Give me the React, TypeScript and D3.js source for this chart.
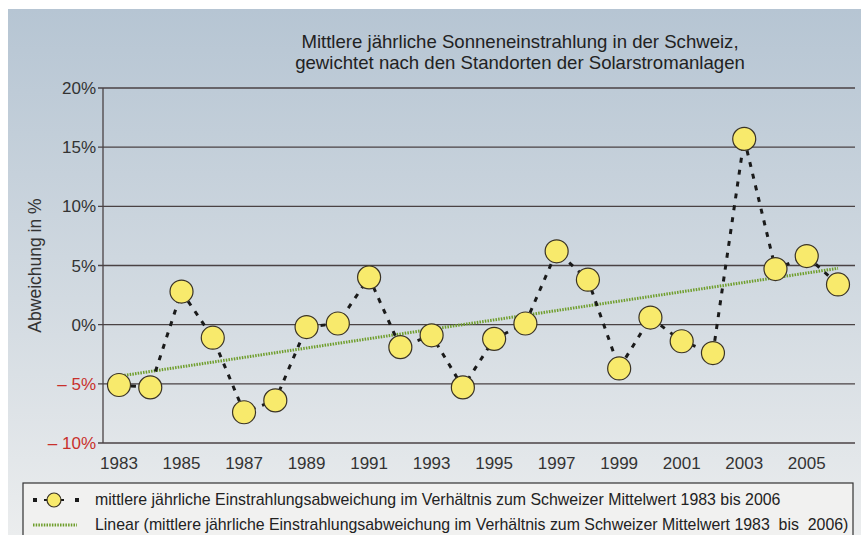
import React from "react";
import * as d3 from "d3";

// Jahre und mittlere Abweichung in %
const years = [
  1983, 1984, 1985, 1986, 1987, 1988, 1989, 1990, 1991, 1992, 1993, 1994,
  1995, 1996, 1997, 1998, 1999, 2000, 2001, 2002, 2003, 2004, 2005, 2006,
];
const deviation = [
  -5.1, -5.3, 2.8, -1.1, -7.4, -6.4, -0.2, 0.1, 4.0, -1.9, -0.9, -5.3,
  -1.2, 0.1, 6.2, 3.8, -3.7, 0.6, -1.4, -2.4, 15.7, 4.7, 5.8, 3.4,
];
const yTicks = [-10, -5, 0, 5, 10, 15, 20];
const xTickYears = [1983, 1985, 1987, 1989, 1991, 1993, 1995, 1997, 1999, 2001, 2003, 2005];

const titleLines = [
  "Mittlere jährliche Sonneneinstrahlung in der Schweiz,",
  "gewichtet nach den Standorten der Solarstromanlagen",
];
const legendLabels = [
  "mittlere jährliche Einstrahlungsabweichung im Verhältnis zum Schweizer Mittelwert 1983 bis 2006",
  "Linear (mittlere jährliche Einstrahlungsabweichung im Verhältnis zum Schweizer Mittelwert 1983  bis  2006)",
];

const W = 861;
const H = 535;
const FONT = "'Liberation Sans', Arial, sans-serif";
const YELLOW = "#f8ea6c";
const GREEN = "#6f9e2c";

export default function App() {
  const x = d3.scaleLinear().domain([1983, 2006]).range([119, 838]);
  const y = d3.scaleLinear().domain([-10, 20]).range([443, 88]);

  const data = years.map((yr, i) => ({ yr, v: deviation[i] }));

  // lineare Regression für die Trendlinie
  const mx = d3.mean(years) as number;
  const my = d3.mean(deviation) as number;
  const slope =
    d3.sum(data, (d) => (d.yr - mx) * (d.v - my)) /
    d3.sum(data, (d) => (d.yr - mx) ** 2);
  const icpt = my - slope * mx;
  const trend = [years[0], years[years.length - 1]].map((yr) => ({ yr, v: icpt + slope * yr }));

  const line = d3
    .line<{ yr: number; v: number }>()
    .x((d) => x(d.yr))
    .y((d) => y(d.v));

  const fmt = (t: number) => (t < 0 ? `\u2013 ${Math.abs(t)}%` : `${t}%`);

  return (
    <svg
      width={W}
      height={H}
      style={{ position: "absolute", left: 0, top: 0, fontFamily: FONT }}
    >
      <defs>
        <linearGradient id="bg" x1="0" y1="0" x2="0" y2="1">
          <stop offset="0%" stopColor="#b6c5d3" />
          <stop offset="55%" stopColor="#d2dae1" />
          <stop offset="100%" stopColor="#ebedee" />
        </linearGradient>
      </defs>
      <rect x={0} y={0} width={W} height={H} fill="#ffffff" />
      <rect x={8} y={9} width={W - 8} height={H - 9} fill="url(#bg)" />

      {/* Titel */}
      <g fill="#222" fontSize={18.6} textAnchor="middle">
        {titleLines.map((t, i) => (
          <text key={i} x={520} y={48 + i * 21}>
            {t}
          </text>
        ))}
      </g>

      {/* Gitterlinien + y-Achse */}
      <g>
        {yTicks.map((t) => (
          <g key={t}>
            <line x1={98} x2={855} y1={y(t)} y2={y(t)} stroke="#4a4244" strokeWidth={1.3} />
            <text
              x={96}
              y={y(t) + 6}
              textAnchor="end"
              fontSize={17}
              fill={t < 0 ? "#c8302c" : "#333"}
            >
              {fmt(t)}
            </text>
          </g>
        ))}
        <line x1={103} x2={103} y1={y(20)} y2={y(-10)} stroke="#4a4244" strokeWidth={1.3} />
      </g>

      <text
        transform={`translate(41,${y(5)}) rotate(-90)`}
        textAnchor="middle"
        fontSize={17.5}
        fill="#333"
      >
        Abweichung in %
      </text>

      {/* x-Achse */}
      <g fontSize={17} fill="#333" textAnchor="middle">
        {xTickYears.map((yr) => (
          <text key={yr} x={x(yr)} y={469}>
            {yr}
          </text>
        ))}
      </g>

      {/* Trendlinie */}
      <path
        d={line(trend) || ""}
        fill="none"
        stroke={GREEN}
        strokeWidth={3}
        strokeDasharray="1.5,1.2"
      />

      {/* Datenreihe */}
      <path
        d={line(data) || ""}
        fill="none"
        stroke="#1a1a1a"
        strokeWidth={3}
        strokeDasharray="5,7"
      />
      {data.map((d) => (
        <circle
          key={d.yr}
          cx={x(d.yr)}
          cy={y(d.v)}
          r={11.5}
          fill={YELLOW}
          stroke="#3a3326"
          strokeWidth={1.2}
        />
      ))}

      {/* Legende */}
      <rect x={23} y={483} width={830} height={60} fill="#f1f1f0" stroke="#333" strokeWidth={1.2} />
      <g>
        <rect x={33} y={498} width={4} height={4} fill="#1a1a1a" />
        <rect x={75} y={498} width={4} height={4} fill="#1a1a1a" />
        <line x1={44} x2={64} y1={500} y2={500} stroke="#1a1a1a" strokeWidth={2} />
        <circle cx={54} cy={500} r={7} fill={YELLOW} stroke="#3a3326" strokeWidth={1.2} />
        <line x1={33} x2={77} y1={525} y2={525} stroke={GREEN} strokeWidth={3} strokeDasharray="1.5,1.2" />
        <text x={95} y={505} fontSize={15.9} fill="#222">
          {legendLabels[0]}
        </text>
        <text x={95} y={530} fontSize={15.9} fill="#222" style={{ whiteSpace: "pre" }}>
          {legendLabels[1]}
        </text>
      </g>
    </svg>
  );
}
